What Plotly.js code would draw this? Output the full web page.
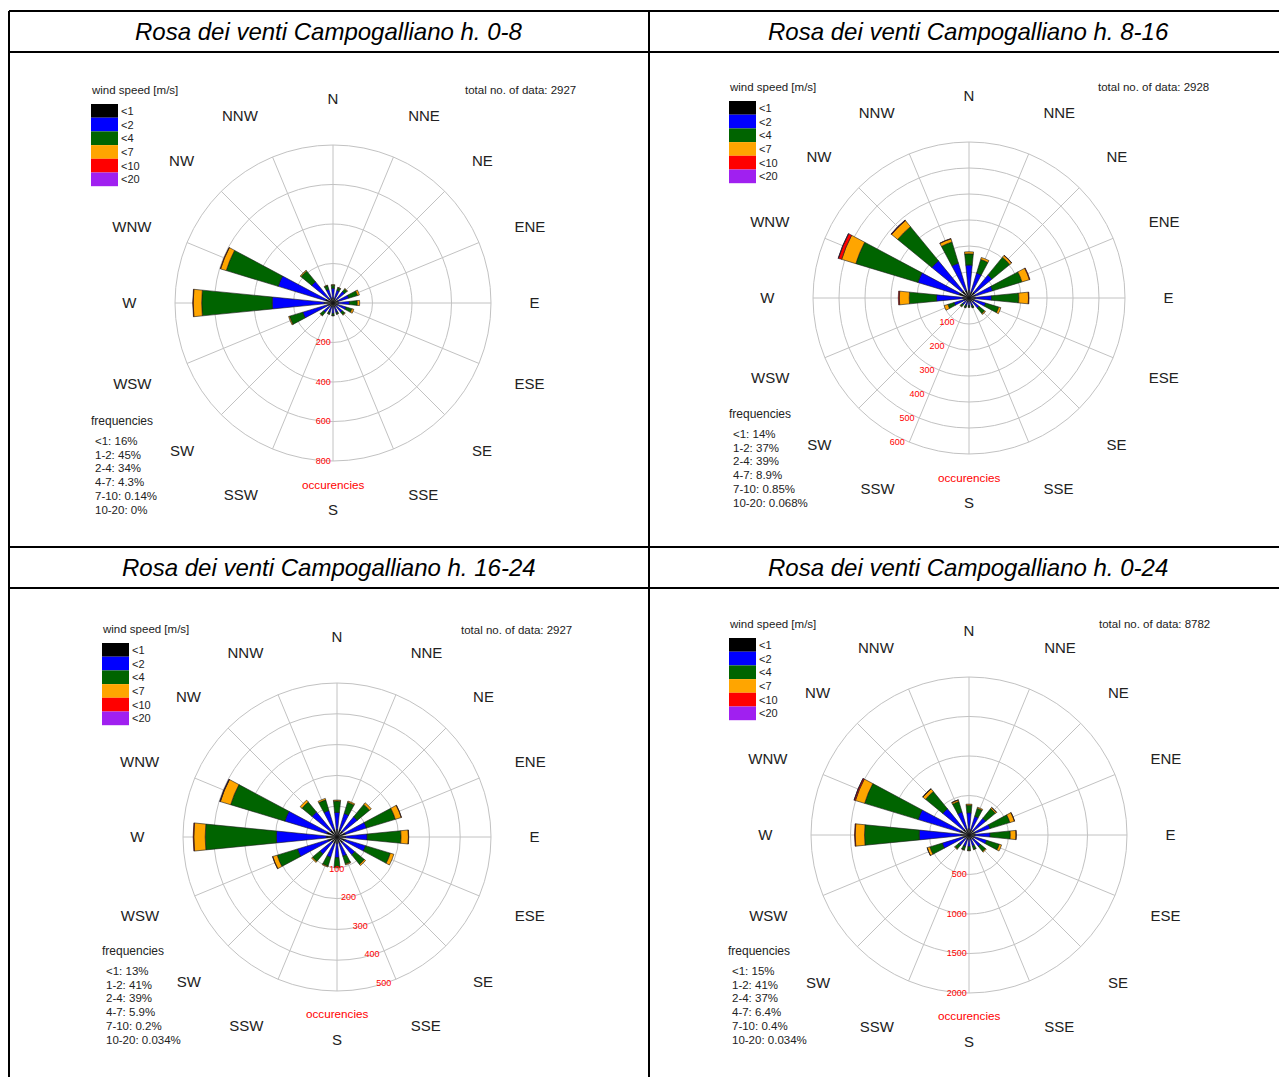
<!DOCTYPE html>
<html><head><meta charset="utf-8">
<script src="https://cdn.plot.ly/plotly-3.0.1.min.js"></script>
<style>html,body{margin:0;padding:0;background:#fff}#chart{width:1279px;height:1077px}</style>
</head><body><div id="chart"></div>
<script>
// ---------- DATA ----------
const directions = ['N','NNE','NE','ENE','E','ESE','SE','SSE','S','SSW','SW','WSW','W','WNW','NW','NNW'];
const speedClasses = ['&lt;1','&lt;2','&lt;4','&lt;7','&lt;10','&lt;20'];
const freqClasses = ['&lt;1','1-2','2-4','4-7','7-10','10-20'];
const speedColors = ['#000000','#0000FF','#006400','#FFA500','#FF0000','#A020F0'];

const titles = ['Rosa dei venti Campogalliano h. 0-8','Rosa dei venti Campogalliano h. 8-16',
                'Rosa dei venti Campogalliano h. 16-24','Rosa dei venti Campogalliano h. 0-24'];
const totals = [2927, 2928, 2927, 8782];
const freq_h0_8   = ['16%','45%','34%','4.3%','0.14%','0%'];
const freq_h8_16  = ['14%','37%','39%','8.9%','0.85%','0.068%'];
const freq_h16_24 = ['13%','41%','39%','5.9%','0.2%','0.034%'];
const freq_h0_24  = ['15%','41%','37%','6.4%','0.4%','0.034%'];

// occurrences per direction, one array per speed class
// h. 0-8
const h0_8_lt1  = [25,22,25,28,28,25,22,20,20,20,22,30,45,40,30,25];
const h0_8_lt2  = [50,45,50,55,55,45,40,30,33,30,40,130,263,250,110,48];
const h0_8_lt4  = [15,14,17,47,40,30,15,9,11,9,21,70,357,275,70,19];
const h0_8_lt7  = [3,2,3,10,12,10,3,1,1,1,2,5,43,30,5,3];
const h0_8_lt10 = [0,0,0,0,0,0,0,0,0,0,0,0,2,2,0,0];
const h0_8_lt20 = [0,0,0,0,0,0,0,0,0,0,0,0,0,0,0,0];
// h. 8-16
const h8_16_lt1  = [30,25,28,25,25,22,20,15,14,15,15,20,25,40,35,30];
const h8_16_lt2  = [97,75,87,70,62,45,30,17,15,17,18,40,100,165,150,110];
const h8_16_lt4  = [43,55,88,118,105,53,28,7,6,7,10,25,105,250,170,85];
const h8_16_lt7  = [8,8,9,30,37,8,4,1,1,1,2,15,38,57,30,13];
const h8_16_lt10 = [0,0,1,2,2,0,0,0,0,0,0,0,4,13,2,1];
const h8_16_lt20 = [0,0,0,0,0,0,0,0,0,0,0,0,0,1,1,0];
// h. 16-24
const h16_24_lt1  = [25,25,25,28,28,27,25,20,22,22,22,30,35,35,28,25];
const h16_24_lt2  = [55,55,60,72,70,70,50,45,45,47,50,104,162,142,77,65];
const h16_24_lt4  = [37,38,52,98,110,84,40,27,30,30,31,69,231,184,42,36];
const h16_24_lt7  = [3,4,7,20,24,12,5,3,3,3,4,15,37,35,8,5];
const h16_24_lt10 = [0,0,0,1,1,0,0,0,0,0,0,1,2,1,0,0];
const h16_24_lt20 = [0,0,0,0,0,0,0,0,0,0,0,0,0,1,0,0];
// h. 0-24
const h0_24_lt1  = [80,72,78,81,81,74,67,55,56,57,59,80,105,115,93,80];
const h0_24_lt2  = [202,175,197,197,187,160,120,92,93,94,108,274,525,557,337,223];
const h0_24_lt4  = [95,107,157,263,255,167,83,43,47,46,62,164,693,709,282,140];
const h0_24_lt7  = [14,14,19,60,73,30,12,5,5,5,8,35,118,122,43,21];
const h0_24_lt10 = [0,0,1,3,3,0,0,0,0,0,0,1,8,16,2,1];
const h0_24_lt20 = [0,0,0,0,0,0,0,0,0,0,0,0,0,2,1,0];

const radialTicks1 = [200,400,600,800];
const radialTicks2 = [100,200,300,400,500,600];
const radialTicks3 = [100,200,300,400,500];
const radialTicks4 = [500,1000,1500,2000];

// ---------- LAYOUT CONFIG ----------
const W = 1279, H = 1077;
const panels = [
  {series:[h0_8_lt1,h0_8_lt2,h0_8_lt4,h0_8_lt7,h0_8_lt10,h0_8_lt20], freq:freq_h0_8, ticks:radialTicks1,
   cx:333, cy:303, r:158, rangle:270, tx:329, ty:31, lg:[91,90], tot:[576,90], fq:[91,421], occ:[333,485]},
  {series:[h8_16_lt1,h8_16_lt2,h8_16_lt4,h8_16_lt7,h8_16_lt10,h8_16_lt20], freq:freq_h8_16, ticks:radialTicks2,
   cx:969, cy:298, r:156, rangle:247.5, tx:968, ty:31, lg:[729,87], tot:[1209,87], fq:[729,414], occ:[969,477]},
  {series:[h16_24_lt1,h16_24_lt2,h16_24_lt4,h16_24_lt7,h16_24_lt10,h16_24_lt20], freq:freq_h16_24, ticks:radialTicks3,
   cx:337, cy:837, r:154, rangle:292.5, tx:329, ty:567, lg:[102,629], tot:[572,630], fq:[102,951], occ:[337,1013]},
  {series:[h0_24_lt1,h0_24_lt2,h0_24_lt4,h0_24_lt7,h0_24_lt10,h0_24_lt20], freq:freq_h0_24, ticks:radialTicks4,
   cx:969, cy:835, r:158, rangle:270, tx:968, ty:567, lg:[729,624], tot:[1210,624], fq:[728,951], occ:[969,1015]}
];

const X = v => v / W, Y = v => 1 - v / H;
const FONT = 'Liberation Sans, Arial, sans-serif';
const GRID = '#c2c2c2';

const traces = [];
const layout = {
  width: W, height: H, margin: {l:0, r:0, t:0, b:0},
  paper_bgcolor: '#ffffff', showlegend: false,
  font: {family: FONT, color: '#222'},
  shapes: [], annotations: []
};

function txt(x, y, text, size, opts) {
  layout.annotations.push(Object.assign({
    xref:'paper', yref:'paper', x:X(x), y:Y(y), text:text, showarrow:false,
    xanchor:'left', yanchor:'middle', borderpad:0, font:{family:FONT, size:size, color:'#222'}
  }, opts || {}));
}

panels.forEach((p, k) => {
  const pid = k === 0 ? 'polar' : 'polar' + (k + 1);
  p.series.forEach((vals, i) => {
    traces.push({
      type:'barpolar', subplot:pid, r:vals, theta:directions, name:speedClasses[i],
      marker:{color:speedColors[i], line:{color:'#1a1a1a', width:0.6}}, hoverinfo:'skip'
    });
  });
  const rmax = p.ticks[p.ticks.length - 1];
  let ta = p.rangle; if (ta > 180) ta -= 360;
  layout[pid] = {
    domain:{x:[X(p.cx - p.r), X(p.cx + p.r)], y:[Y(p.cy + p.r), Y(p.cy - p.r)]},
    bgcolor:'#ffffff', barmode:'stack', bargap:0.5, hole:0,
    angularaxis:{type:'category', categoryarray:directions, direction:'clockwise', rotation:90,
      showgrid:true, gridcolor:GRID, gridwidth:1, showline:true, linecolor:GRID, linewidth:1,
      ticks:'outside', ticklen:35, tickcolor:'rgba(0,0,0,0)', tickfont:{family:FONT, size:15, color:'#222'}},
    radialaxis:{range:[0, rmax], tickvals:p.ticks, showline:false, ticks:'', angle:p.rangle, tickangle:ta,
      showgrid:true, gridcolor:GRID, gridwidth:1, tickfont:{family:FONT, size:9, color:'#ff0000'}}
  };
  // title
  txt(p.tx, p.ty, '<i>' + titles[k] + '</i>', 24, {xanchor:'center', font:{family:FONT, size:24, color:'#000'}});
  // speed legend
  txt(p.lg[0] - 1, p.lg[1], 'wind speed [m/s]', 11.5);
  const bh = 13.7;
  speedColors.forEach((c, i) => {
    const y0 = p.lg[1] + 14 + bh * i;
    layout.shapes.push({type:'rect', xref:'paper', yref:'paper', x0:X(p.lg[0]), x1:X(p.lg[0] + 27),
      y0:Y(y0), y1:Y(y0 + bh), fillcolor:c, line:{width:0}});
    txt(p.lg[0] + 29, y0 + bh / 2, speedClasses[i], 11);
  });
  // total
  txt(p.tot[0] + 1, p.tot[1], 'total no. of data: ' + totals[k], 11.5, {xanchor:'right'});
  // frequencies
  txt(p.fq[0] - 1, p.fq[1], 'frequencies', 12);
  p.freq.forEach((f, i) => {
    txt(p.fq[0] + 3, p.fq[1] + 20 + 13.7 * i, freqClasses[i] + ': ' + f, 11.5);
  });
  // radial axis label
  txt(p.occ[0], p.occ[1], 'occurencies', 11.7, {xanchor:'center', font:{family:FONT, size:11.7, color:'#ff0000'}});
});

// frame lines
function line(x0, y0, x1, y1) {
  layout.shapes.push({type:'line', xref:'paper', yref:'paper', x0:X(x0), y0:Y(y0), x1:X(x1), y1:Y(y1),
    line:{color:'#000', width:2}});
}
line(9, 11, 1279, 11);
line(9, 52, 1279, 52);
line(9, 547, 1279, 547);
line(9, 588, 1279, 588);
line(9, 11, 9, 1077);
line(649, 11, 649, 1077);

Plotly.newPlot('chart', traces, layout, {staticPlot:true});
</script>
</body></html>
